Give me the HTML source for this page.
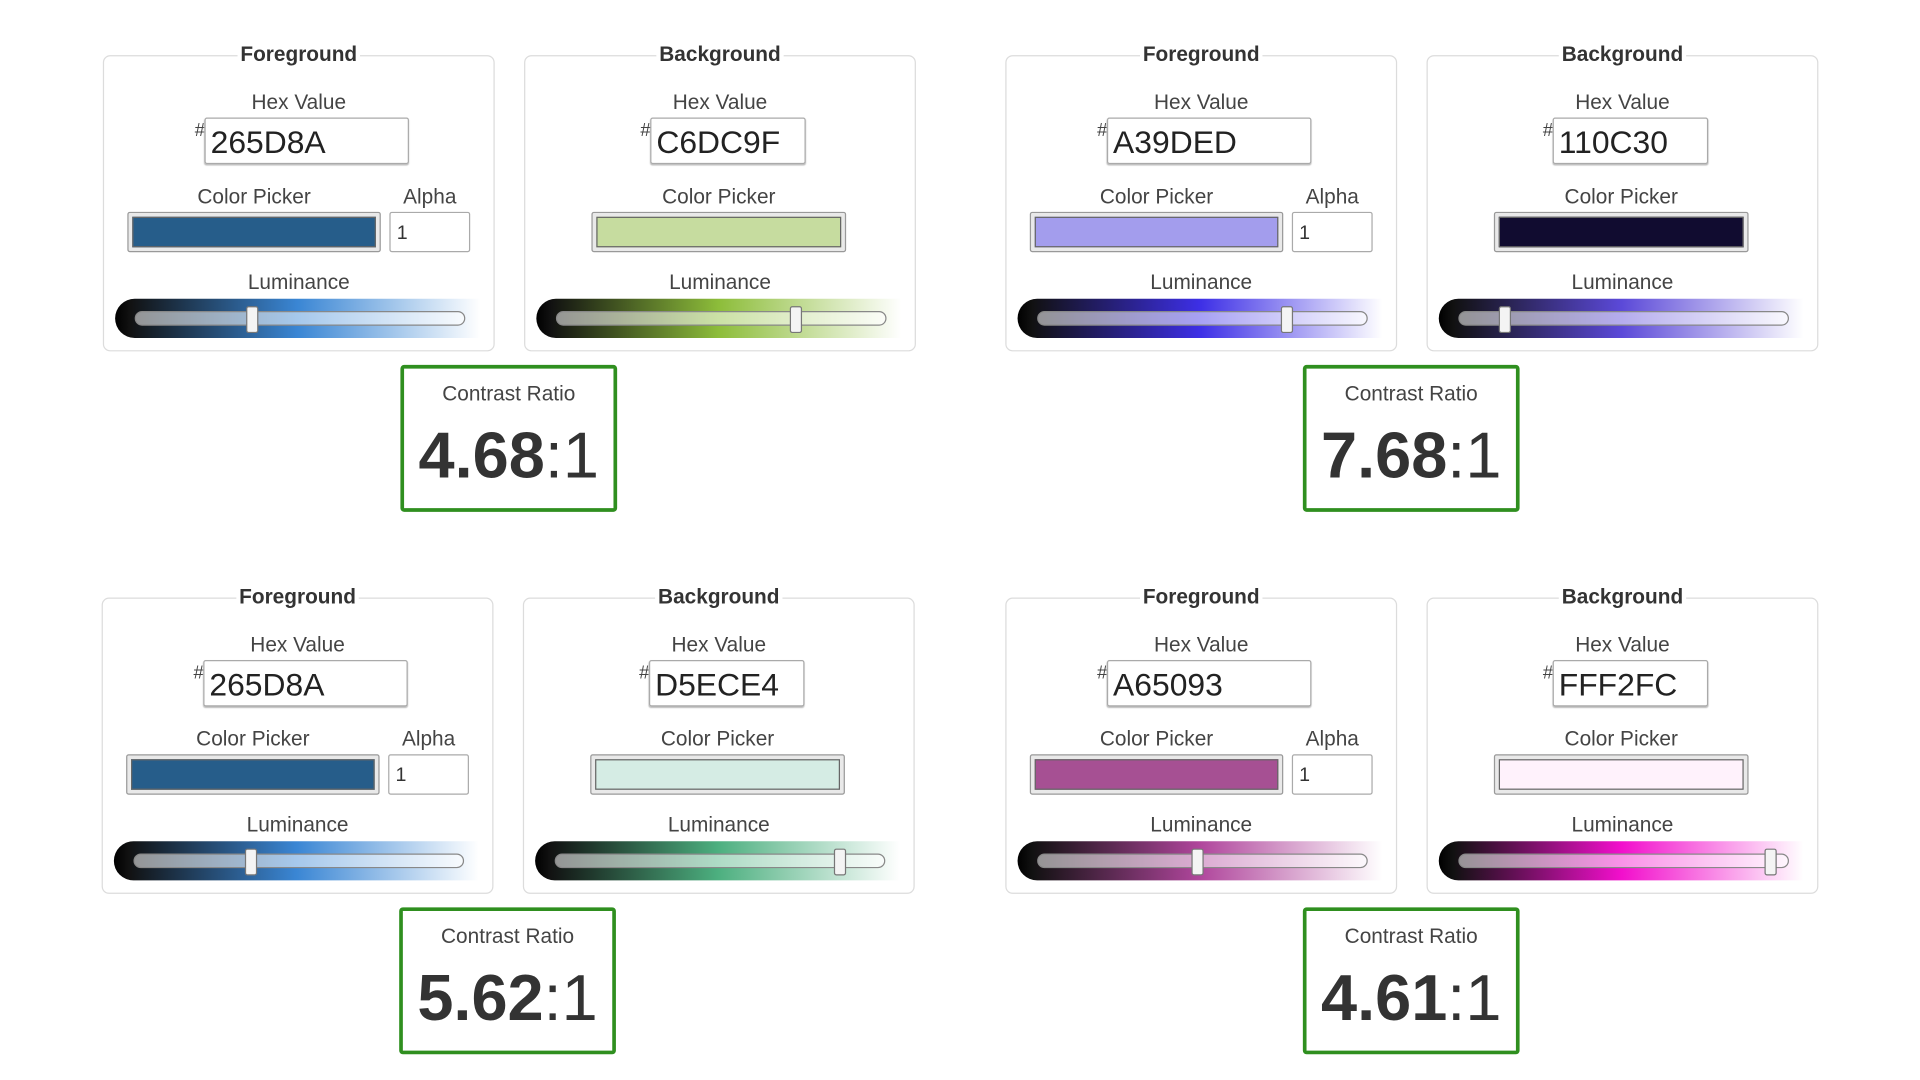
<!DOCTYPE html>
<html><head><meta charset="utf-8">
<style>
html,body{margin:0;padding:0;background:#fff;}
body{width:1920px;height:1080px;overflow:hidden;position:relative;font-family:"Liberation Sans",sans-serif;color:#333;}
#wrap{position:absolute;left:0;top:0;width:1568px;height:882px;transform:scale(1.22449);transform-origin:0 0;}
.panel{position:absolute;width:318px;height:240px;border:1px solid #dcdcdc;border-radius:6px;background:#fff;}
.legend{position:absolute;top:-11px;left:0;width:100%;text-align:center;font-weight:bold;font-size:17px;line-height:20px;}
.legend span{background:#fff;padding:0 2px;}
.lbl{position:absolute;font-size:17px;line-height:20px;text-align:center;color:#444;}
.hash{position:absolute;font-size:15px;color:#444;}
.hex{position:absolute;height:38px;border:1px solid #aaa;border-radius:2px;font-size:26px;line-height:38px;padding-left:4px;box-sizing:border-box;color:#222;box-shadow:0 1px 1px #bbb;}
.picker{position:absolute;height:33px;border:1px solid #999;border-radius:2px;background:#e9e9e9;box-sizing:border-box;padding:3px;}
.picker div{width:100%;height:100%;border:1px solid #666;box-sizing:border-box;}
.alpha{position:absolute;height:33px;border:1px solid #aaa;border-radius:2px;font-size:16px;line-height:33px;padding-left:5px;box-sizing:border-box;}
.slider{position:absolute;height:32px;border-radius:16px 0 0 16px;}
.track{position:absolute;height:10px;border:1px solid #888;border-radius:6px;background:rgba(255,255,255,0.55);}
.thumb{position:absolute;width:8px;height:20px;background:#f4f4f4;border:1px solid #777;border-radius:2px;}
.cr{position:absolute;width:177px;height:120px;border:3px solid #2f8f1f;border-radius:3px;box-sizing:border-box;text-align:center;}
.cr .t{position:absolute;top:11px;width:100%;font-size:17px;color:#444;}
.cr .v{position:absolute;top:42px;width:100%;font-size:53px;line-height:60px;color:#333;}
</style></head>
<body>
<div id="wrap"></div>
<script>
const fgHex=["265D8A","A39DED","265D8A","A65093"];
const bgHex=["C6DC9F","110C30","D5ECE4","FFF2FC"];
const fgMid=["#3a86d4","#3d2fe6","#3a86d4","#b0469c"];
const bgMid=["#8dbd3a","#5b49d8","#4caf7f","#f20fcc"];
const fgLum=[0.36,0.76,0.36,0.49];
const bgLum=[0.73,0.14,0.87,0.95];
const ratioNum=["4.68","7.68","5.62","4.61"];
const groupX=[84,821,83,821];
const groupY=[45,45,488,488];
const wrap=document.getElementById('wrap');
function mk(cls,parent,name,inter){const d=document.createElement('div');d.className=cls;parent.appendChild(d);


return d;}
function panel(px,py,title,hex,mid,lum,isFg){
  const p=mk('panel',wrap,title.toLowerCase()+'-panel',false);
  p.style.left=px+'px';p.style.top=py+'px';
  const lg=mk('legend',p,'panel-legend',false);lg.innerHTML='<span>'+title+'</span>';
  const hl=mk('lbl',p,'hex-value-label',false);hl.textContent='Hex Value';hl.style.left='0';hl.style.width='318px';hl.style.top='28px';
  const hx0=isFg?82:102, hw=isFg?167:127;
  const h=mk('hash',p,'hash-symbol',false);h.textContent='#';h.style.left=(hx0-8)+'px';h.style.top='52px';
  const inp=mk('hex',p,'hex-input',true);inp.textContent=hex;inp.style.left=hx0+'px';inp.style.top='50px';inp.style.width=hw+'px';
  const pl=mk('lbl',p,'color-picker-label',false);pl.textContent='Color Picker';
  const pk=mk('picker',p,'color-picker',true);pk.innerHTML='<div></div>';pk.firstChild.style.background='#'+hex;
  if(isFg){pl.style.left='19px';pl.style.width='207px';pk.style.left='19px';pk.style.width='207px';
    const al=mk('lbl',p,'alpha-label',false);al.textContent='Alpha';al.style.left='233px';al.style.width='66px';al.style.top='105px';
    const ai=mk('alpha',p,'alpha-input',true);ai.textContent='1';ai.style.left='233px';ai.style.top='127px';ai.style.width='66px';
  }else{pl.style.left='54px';pl.style.width='208px';pk.style.left='54px';pk.style.width='208px';}
  pl.style.top='105px';pk.style.top='127px';
  const ll=mk('lbl',p,'luminance-label',false);ll.textContent='Luminance';ll.style.left='0';ll.style.width='318px';ll.style.top='175px';
  const s=mk('slider',p,'luminance-slider',true);s.style.left='9px';s.style.top='198px';s.style.width='298px';
  s.style.background='linear-gradient(to right,#000 0%,#111 4%,'+mid+' 50%,rgba(255,255,255,0) 100%)';
  const tl=25,tw=268;
  const tr=mk('track',p,'luminance-track',false);tr.style.left=tl+'px';tr.style.top='208px';tr.style.width=tw+'px';
  const th=mk('thumb',p,'luminance-thumb',true);th.style.left=(tl+lum*tw-5)+'px';th.style.top='204px';
}
for(let i=0;i<4;i++){
  const gx=groupX[i],gy=groupY[i];
  panel(gx,gy,'Foreground',fgHex[i],fgMid[i],fgLum[i],true);
  panel(gx+344,gy,'Background',bgHex[i],bgMid[i],bgLum[i],false);
  const c=mk('cr',wrap,'contrast-ratio-box',false);
  c.style.left=(gx+243)+'px';c.style.top=(gy+253)+'px';
  const t=document.createElement('div');t.className='t';t.textContent='Contrast Ratio';c.appendChild(t);
  
  
  const v=document.createElement('div');v.className='v';v.innerHTML='<b>'+ratioNum[i]+'</b>:1';c.appendChild(v);
  
  
}
</script>
</body></html>
